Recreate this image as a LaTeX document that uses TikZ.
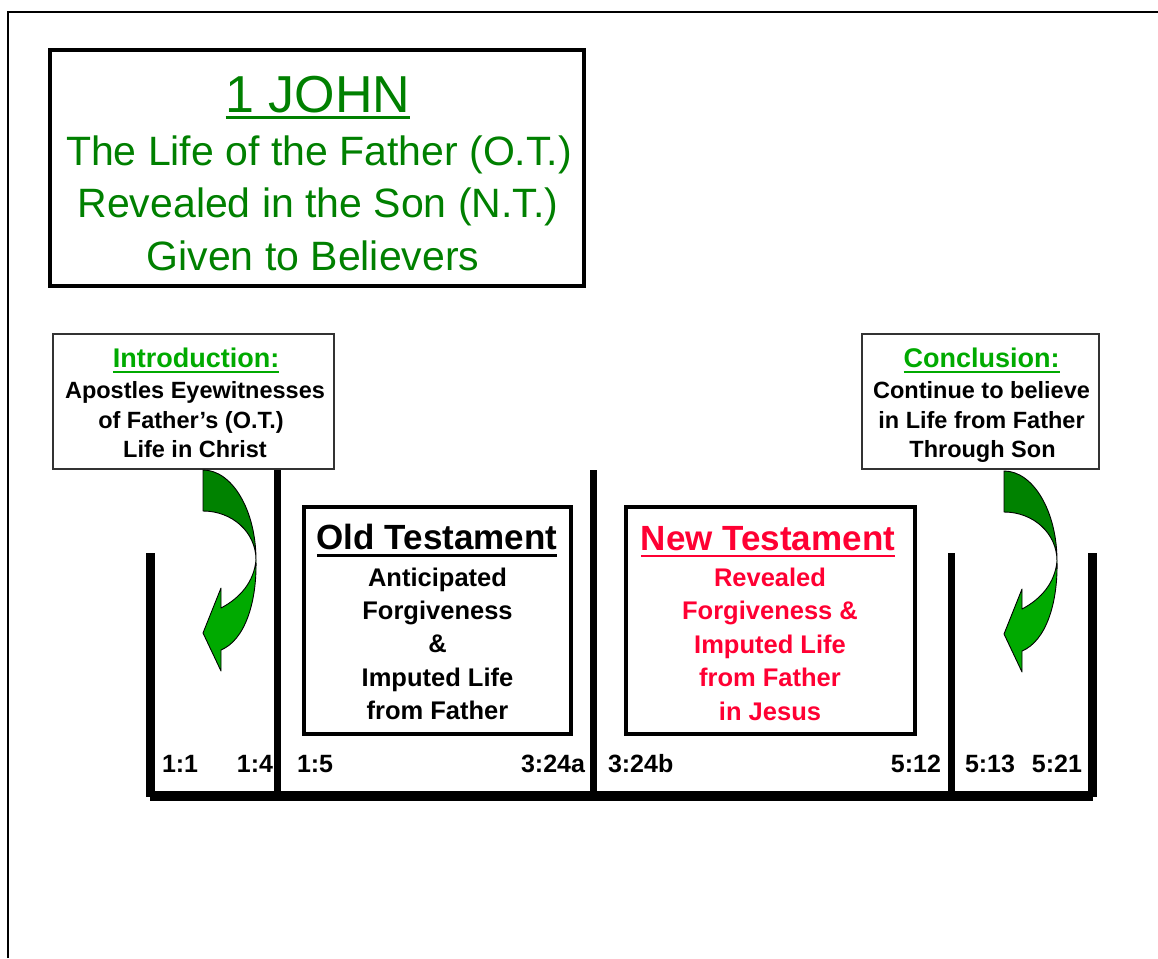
\documentclass[tikz,border=0pt]{standalone}
\usepackage{fontspec}
\setmainfont{Liberation Sans}
\definecolor{tgreen}{RGB}{0,128,0}
\definecolor{lgreen}{RGB}{0,170,0}
\definecolor{dgreen}{RGB}{0,130,0}
\definecolor{ntred}{RGB}{255,0,51}
\begin{document}
\begin{tikzpicture}[x=1pt,y=-1pt,
  every node/.style={inner sep=0pt, outer sep=0pt},
  bigbox/.style={draw=black, line width=4pt, fill=white},
  notebox/.style={draw=black!80, line width=1.3pt, fill=white},
  ttlbig/.style={text=tgreen, font=\fontsize{52}{52}\selectfont, anchor=base},
  ttl/.style={text=tgreen, font=\fontsize{41}{41}\selectfont, anchor=base},
  notehead/.style={text=lgreen, font=\bfseries\fontsize{27}{27}\selectfont, anchor=base},
  notetxt/.style={text=black, font=\bfseries\fontsize{23.5}{23.5}\selectfont, anchor=base},
  testhead/.style={font=\bfseries\fontsize{35}{35}\selectfont, anchor=base},
  testtxt/.style={font=\bfseries\fontsize{25.5}{25.5}\selectfont, anchor=base},
  verse/.style={font=\bfseries\fontsize{25}{25}\selectfont},
  bar/.style={fill=black},
  arrowback/.style={fill=dgreen, draw=black, line width=0.9pt, line join=round},
  arrowfront/.style={fill=lgreen, draw=black, line width=0.9pt, line join=round},
]
\useasboundingbox (0,0) rectangle (1158,958);
% outer frame
\draw[line width=1.6pt] (8,958) -- (8,12) -- (1158,12);

% title box
\node[bigbox, minimum width=534pt, minimum height=236pt] (title) at (317,168) {};
\node[ttlbig] (t1) at (318,112) {1 JOHN};
\draw[tgreen, line width=3pt] ([yshift=-5.5pt]t1.base west) -- ([yshift=-5.5pt]t1.base east);
\node[ttl] (t2) at (319,165) {The Life of the Father (O.T.)};
\node[ttl] (t3) at (318,217) {Revealed in the Son (N.T.)};
\node[ttl] (t4) at (313,270) {Given to Believers};

% bars
\fill[bar] (146,553) rectangle (155,797);
\fill[bar] (274,469) rectangle (281,795);
\fill[bar] (590,470) rectangle (597,795);
\fill[bar] (948,553) rectangle (955,795);
\fill[bar] (1088,553) rectangle (1097,797);
\fill[bar] (150,791) rectangle (1093,801);

% introduction box
\node[notebox, minimum width=281pt, minimum height=135pt] (intro) at (193.5,401.5) {};
\node[notehead] (ih) at (196,367.5) {Introduction:};
\draw[lgreen, line width=2.4pt] ([yshift=-4.5pt]ih.base west) -- ([yshift=-4.5pt]ih.base east);
\node[notetxt] (i1) at (195,398) {Apostles Eyewitnesses};
\node[notetxt] (i2) at (191,428) {of Father’s (O.T.)};
\node[notetxt] (i3) at (195,457) {Life in Christ};

% conclusion box
\node[notebox, minimum width=237pt, minimum height=135pt] (concl) at (980.5,401.5) {};
\node[notehead] (ch) at (981.5,367.5) {Conclusion:};
\draw[lgreen, line width=2.4pt] ([yshift=-4.5pt]ch.base west) -- ([yshift=-4.5pt]ch.base east);
\node[notetxt] (c1) at (981.5,398) {Continue to believe};
\node[notetxt] (c2) at (981.5,428) {in Life from Father};
\node[notetxt] (c3) at (982.5,457) {Through Son};

% Old Testament box
\node[bigbox, minimum width=267pt, minimum height=227pt] (ot) at (437.5,620.5) {};
\node[testhead] (oh) at (437,549.5) {Old Testament};
\draw[black, line width=2.8pt] ([yshift=-6pt]oh.base west) -- ([yshift=-6pt]oh.base east);
\node[testtxt] (o1) at (437.5,586) {Anticipated};
\node[testtxt] (o2) at (437.5,619) {Forgiveness};
\node[testtxt] (o3) at (437.5,652) {\&};
\node[testtxt] (o4) at (437.5,686) {Imputed Life};
\node[testtxt] (o5) at (437.5,719) {from Father};

% New Testament box
\node[bigbox, minimum width=289pt, minimum height=227pt] (nt) at (770.5,620.5) {};
\node[testhead, text=ntred] (nh) at (768,550) {New Testament};
\draw[ntred, line width=2.8pt] ([yshift=-6pt]nh.base west) -- ([yshift=-6pt]nh.base east);
\node[testtxt, text=ntred] (n1) at (770,586.5) {Revealed};
\node[testtxt, text=ntred] (n2) at (770,619.5) {Forgiveness \&};
\node[testtxt, text=ntred] (n3) at (770,653) {Imputed Life};
\node[testtxt, text=ntred] (n4) at (770,686.5) {from Father};
\node[testtxt, text=ntred] (n5) at (770,720) {in Jesus};

% verse labels
\node[verse, anchor=base west] (v1) at (162,772) {1:1};
\node[verse, anchor=base east] (v2) at (273,772) {1:4};
\node[verse, anchor=base west] (v3) at (297,772) {1:5};
\node[verse, anchor=base east] (v4) at (585,772) {3:24a};
\node[verse, anchor=base west] (v5) at (608,772) {3:24b};
\node[verse, anchor=base east] (v6) at (941,772) {5:12};
\node[verse, anchor=base west] (v7) at (965,772) {5:13};
\node[verse, anchor=base east] (v8) at (1082,772) {5:21};

% curved arrows
\foreach \dx/\dy in {0/0, 801/1} {
  \begin{scope}[shift={(\dx,\dy)}]
    \path[arrowback] (203,470) .. controls (232,470) and (256,510) .. (256,560)
      .. controls (256,532) and (232,511) .. (203,511) -- cycle;
    \path[arrowfront] (256,560) .. controls (257,602) and (245,640) .. (221,650)
      -- (221,671) -- (203,633) -- (221,588) -- (221,608)
      .. controls (240,598) and (254,582) .. (256,560) -- cycle;
  \end{scope}
}
\end{tikzpicture}
\end{document}
